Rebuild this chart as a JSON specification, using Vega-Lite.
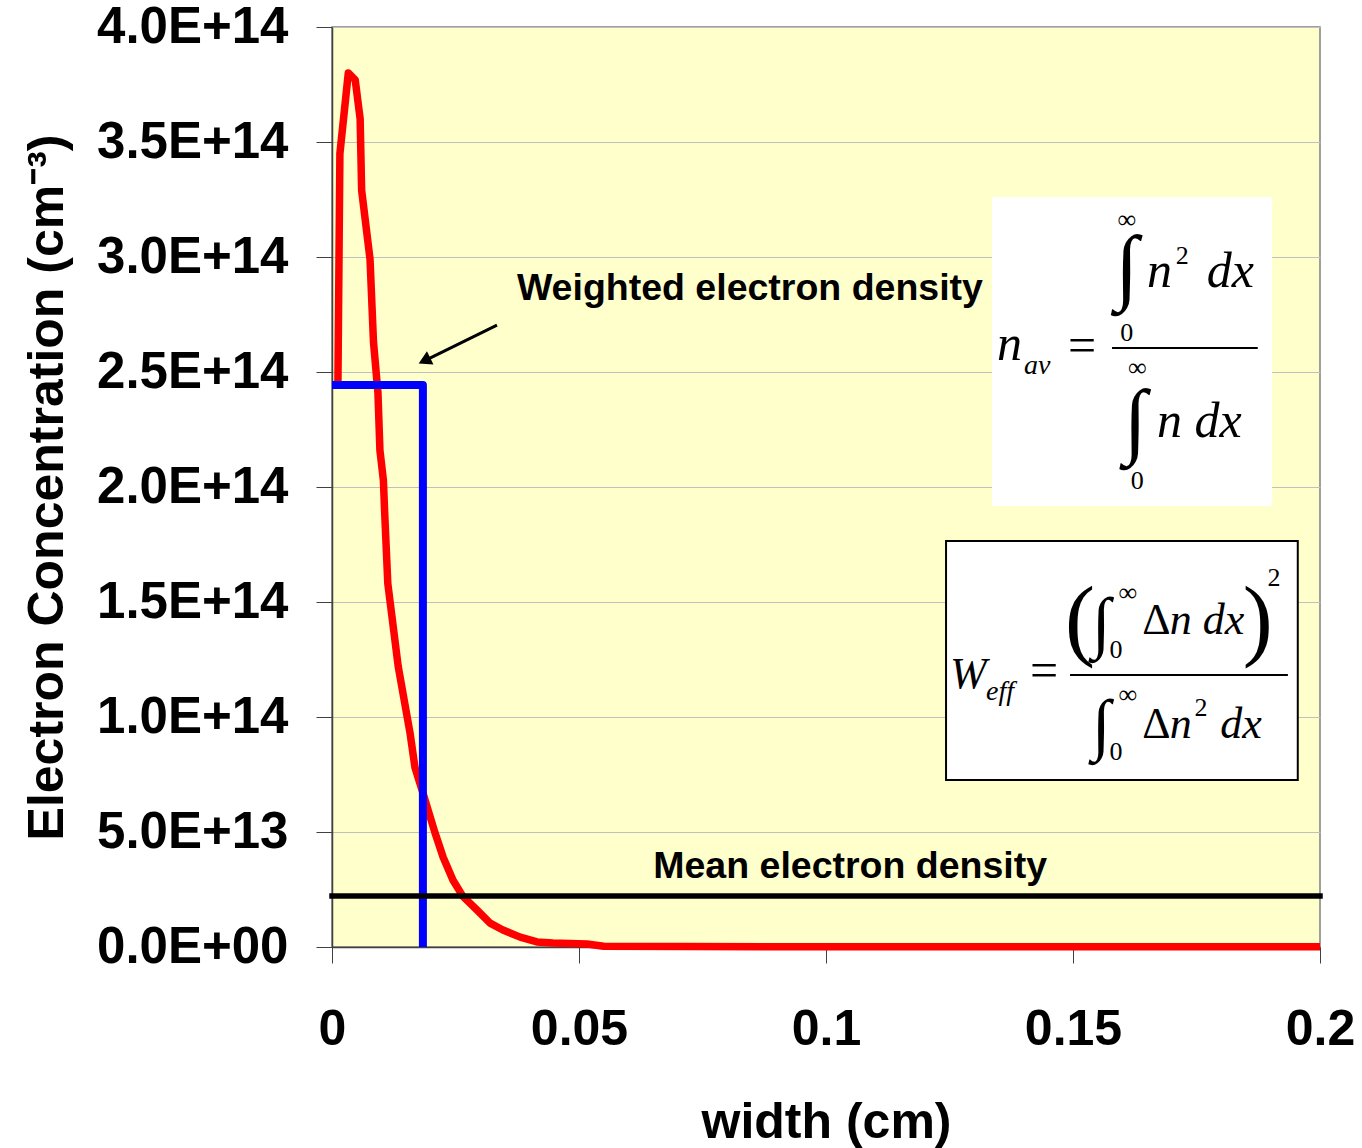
{
  "$schema": "https://vega.github.io/schema/vega-lite/v6.json",
  "width": 988,
  "height": 920,
  "autosize": "none",
  "padding": {"left": 332, "top": 27, "right": 42, "bottom": 201},
  "background": "white",
  "config": {
    "view": {"fill": "#FFFFCC", "stroke": "#808080", "strokeWidth": 1.5},
    "font": "Liberation Sans"
  },
  "datasets": {
    "curve": [
      {"x": 0.0012, "y": 2.45e14},
      {"x": 0.0016, "y": 3.45e14},
      {"x": 0.0033, "y": 3.80e14},
      {"x": 0.0047, "y": 3.77e14},
      {"x": 0.0057, "y": 3.60e14},
      {"x": 0.0060, "y": 3.29e14},
      {"x": 0.0077, "y": 2.99e14},
      {"x": 0.0084, "y": 2.63e14},
      {"x": 0.0093, "y": 2.41e14},
      {"x": 0.0097, "y": 2.16e14},
      {"x": 0.0104, "y": 2.03e14},
      {"x": 0.0107, "y": 1.87e14},
      {"x": 0.0113, "y": 1.58e14},
      {"x": 0.0134, "y": 1.22e14},
      {"x": 0.0158, "y": 9.3e13},
      {"x": 0.0168, "y": 7.8e13},
      {"x": 0.0184, "y": 6.7e13},
      {"x": 0.0208, "y": 5.0e13},
      {"x": 0.0225, "y": 3.9e13},
      {"x": 0.0245, "y": 2.9e13},
      {"x": 0.0265, "y": 2.2e13},
      {"x": 0.0294, "y": 1.6e13},
      {"x": 0.0320, "y": 1.04e13},
      {"x": 0.0346, "y": 7.4e12},
      {"x": 0.0381, "y": 4.3e12},
      {"x": 0.0415, "y": 2.2e12},
      {"x": 0.0447, "y": 1.7e12},
      {"x": 0.0516, "y": 1.3e12},
      {"x": 0.0550, "y": 3e11},
      {"x": 0.1000, "y": 1e11},
      {"x": 0.2000, "y": 1e11}
    ],
    "weighted": [
      {"x": 0, "y": 2.443e14, "step": 1},
      {"x": 0.0184, "y": 2.443e14, "step": 2},
      {"x": 0.0184, "y": 0, "step": 3}
    ],
    "mean": [{"x": 0, "x2": 0.2, "y": 2.22e13}],
    "box1": [{"x": 0.1336, "x2": 0.1903, "y": 1.917e14, "y2": 3.261e14}],
    "box2": [{"x": 0.1243, "x2": 0.1955, "y": 7.26e13, "y2": 1.765e14}],
    "fracs": [
      {"x": 0.1579, "x2": 0.1874, "y": 2.604e14},
      {"x": 0.1494, "x2": 0.1935, "y": 1.183e14}
    ],
    "formula": [
      {"x": 0.1346, "y": 2.552e14, "t": "n", "role": "main1"},
      {"x": 0.1401, "y": 2.491e14, "t": "av", "role": "sub"},
      {"x": 0.1490, "y": 2.543e14, "t": "=", "role": "eq"},
      {"x": 0.1609, "y": 3.161e14, "t": "∞", "role": "lim"},
      {"x": 0.1609, "y": 2.948e14, "t": "∫", "role": "int1"},
      {"x": 0.1650, "y": 2.870e14, "t": "n", "role": "main1"},
      {"x": 0.1721, "y": 3.004e14, "t": "2", "role": "lim"},
      {"x": 0.1771, "y": 2.870e14, "t": "dx", "role": "main1"},
      {"x": 0.1609, "y": 2.670e14, "t": "0", "role": "lim"},
      {"x": 0.1630, "y": 2.517e14, "t": "∞", "role": "lim"},
      {"x": 0.1626, "y": 2.278e14, "t": "∫", "role": "int1"},
      {"x": 0.1670, "y": 2.217e14, "t": "n dx", "role": "main1"},
      {"x": 0.1630, "y": 2.026e14, "t": "0", "role": "lim"},
      {"x": 0.1251, "y": 1.126e14, "t": "W", "role": "main2"},
      {"x": 0.1324, "y": 1.074e14, "t": "eff", "role": "sub"},
      {"x": 0.1413, "y": 1.130e14, "t": "=", "role": "eq"},
      {"x": 0.1514, "y": 1.413e14, "t": "(", "role": "paren"},
      {"x": 0.1874, "y": 1.413e14, "t": ")", "role": "paren"},
      {"x": 0.1907, "y": 1.604e14, "t": "2", "role": "lim"},
      {"x": 0.1557, "y": 1.400e14, "t": "∫", "role": "int2"},
      {"x": 0.1611, "y": 1.539e14, "t": "∞", "role": "lim"},
      {"x": 0.1587, "y": 1.291e14, "t": "0", "role": "lim"},
      {"x": 0.1640, "y": 1.361e14, "t": "Δ", "role": "delta"},
      {"x": 0.1696, "y": 1.361e14, "t": "n dx", "role": "main2"},
      {"x": 0.1557, "y": 0.957e14, "t": "∫", "role": "int2"},
      {"x": 0.1611, "y": 1.096e14, "t": "∞", "role": "lim"},
      {"x": 0.1587, "y": 0.848e14, "t": "0", "role": "lim"},
      {"x": 0.1640, "y": 0.909e14, "t": "Δ", "role": "delta"},
      {"x": 0.1696, "y": 0.909e14, "t": "n", "role": "main2"},
      {"x": 0.1759, "y": 1.039e14, "t": "2", "role": "lim"},
      {"x": 0.1798, "y": 0.909e14, "t": "dx", "role": "main2"}
    ],
    "notes": [
      {"x": 0.0846, "y": 2.813e14, "t": "Weighted electron density"},
      {"x": 0.1049, "y": 3.00e13, "t": "Mean electron density"}
    ],
    "arrow": [{"x": 0.0334, "y": 2.704e14, "x2": 0.0191, "y2": 2.553e14}]
  },
  "encoding": {
    "x": {
      "field": "x", "type": "quantitative",
      "scale": {"domain": [0, 0.2], "nice": false, "zero": false},
      "axis": {
        "values": [0, 0.05, 0.1, 0.15, 0.2],
        "format": "~g",
        "grid": false,
        "labelFlush": false,
        "labelFont": "Liberation Sans", "labelFontWeight": "bold", "labelFontSize": 50, "labelColor": "black",
        "tickSize": 16, "tickColor": "#404040", "domainColor": "#404040", "domainWidth": 1.5,
        "labelPadding": 41,
        "title": "width (cm)",
        "titleFont": "Liberation Sans", "titleFontWeight": "bold", "titleFontSize": 50, "titleColor": "black",
        "titlePadding": 43
      }
    },
    "y": {
      "field": "y", "type": "quantitative",
      "scale": {"domain": [0, 4e14], "nice": false},
      "axis": {
        "values": [0, 5e13, 1e14, 1.5e14, 2e14, 2.5e14, 3e14, 3.5e14, 4e14],
        "labelExpr": "datum.value == 0 ? '0.0E+00' : replace(format(datum.value, '.1e'), 'e', 'E')",
        "grid": true, "gridColor": "#C0C0C0", "gridWidth": 1,
        "labelFlush": false,
        "labelOverlap": false,
        "labelLimit": 400,
        "labelFont": "Liberation Sans", "labelFontWeight": "bold", "labelFontSize": 51, "labelColor": "black",
        "tickSize": 16, "tickColor": "#404040", "domainColor": "#404040", "domainWidth": 1.5,
        "labelPadding": 28,
        "title": "Electron Concentration (cm⁻³)",
        "titleFont": "Liberation Sans", "titleFontWeight": "bold", "titleFontSize": 50, "titleColor": "black",
        "titlePadding": 60
      }
    }
  },
  "layer": [
    {
      "data": {"name": "curve"},
      "mark": {"type": "line", "color": "#FF0000", "strokeWidth": 7.5, "strokeJoin": "round", "strokeCap": "butt"}
    },
    {
      "data": {"name": "weighted"},
      "mark": {"type": "line", "color": "#0000FF", "strokeWidth": 8, "strokeJoin": "round"},
      "encoding": {"order": {"field": "step", "type": "quantitative"}}
    },
    {
      "data": {"name": "mean"},
      "mark": {"type": "rule", "color": "black", "strokeWidth": 5.5, "strokeCap": "square"},
      "encoding": {"x2": {"field": "x2"}}
    },
    {
      "data": {"name": "box1"},
      "mark": {"type": "rect", "fill": "white", "strokeWidth": 0},
      "encoding": {"x2": {"field": "x2"}, "y2": {"field": "y2"}}
    },
    {
      "data": {"name": "box2"},
      "mark": {"type": "rect", "fill": "white", "stroke": "black", "strokeWidth": 2},
      "encoding": {"x2": {"field": "x2"}, "y2": {"field": "y2"}}
    },
    {
      "data": {"name": "fracs"},
      "mark": {"type": "rule", "color": "black", "strokeWidth": 2},
      "encoding": {"x2": {"field": "x2"}}
    },
    {
      "data": {"name": "formula"},
      "transform": [{"filter": "datum.role == 'main1'"}],
      "mark": {"type": "text", "font": "Liberation Serif", "fontStyle": "italic", "fontSize": 50, "align": "left", "baseline": "alphabetic", "color": "black"},
      "encoding": {"text": {"field": "t"}}
    },
    {
      "data": {"name": "formula"},
      "transform": [{"filter": "datum.role == 'main2'"}],
      "mark": {"type": "text", "font": "Liberation Serif", "fontStyle": "italic", "fontSize": 44, "align": "left", "baseline": "alphabetic", "color": "black"},
      "encoding": {"text": {"field": "t"}}
    },
    {
      "data": {"name": "formula"},
      "transform": [{"filter": "datum.role == 'delta'"}],
      "mark": {"type": "text", "font": "Liberation Serif", "fontSize": 44, "align": "left", "baseline": "alphabetic", "color": "black"},
      "encoding": {"text": {"field": "t"}}
    },
    {
      "data": {"name": "formula"},
      "transform": [{"filter": "datum.role == 'sub'"}],
      "mark": {"type": "text", "font": "Liberation Serif", "fontStyle": "italic", "fontSize": 28, "align": "left", "baseline": "alphabetic", "color": "black"},
      "encoding": {"text": {"field": "t"}}
    },
    {
      "data": {"name": "formula"},
      "transform": [{"filter": "datum.role == 'eq'"}],
      "mark": {"type": "text", "font": "Liberation Serif", "fontSize": 50, "align": "left", "baseline": "alphabetic", "color": "black"},
      "encoding": {"text": {"field": "t"}}
    },
    {
      "data": {"name": "formula"},
      "transform": [{"filter": "datum.role == 'lim'"}],
      "mark": {"type": "text", "font": "Liberation Serif", "fontSize": 26, "align": "center", "baseline": "middle", "color": "black"},
      "encoding": {"text": {"field": "t"}}
    },
    {
      "data": {"name": "formula"},
      "transform": [{"filter": "datum.role == 'int1'"}],
      "mark": {"type": "text", "font": "Liberation Serif", "fontSize": 84, "align": "center", "baseline": "middle", "color": "black"},
      "encoding": {"text": {"field": "t"}}
    },
    {
      "data": {"name": "formula"},
      "transform": [{"filter": "datum.role == 'int2'"}],
      "mark": {"type": "text", "font": "Liberation Serif", "fontSize": 68, "align": "center", "baseline": "middle", "color": "black"},
      "encoding": {"text": {"field": "t"}}
    },
    {
      "data": {"name": "formula"},
      "transform": [{"filter": "datum.role == 'paren'"}],
      "mark": {"type": "text", "font": "Liberation Serif", "fontSize": 90, "align": "center", "baseline": "middle", "color": "black"},
      "encoding": {"text": {"field": "t"}}
    },
    {
      "data": {"name": "notes"},
      "mark": {"type": "text", "font": "Liberation Sans", "fontWeight": "bold", "fontSize": 37.5, "align": "center", "baseline": "alphabetic", "color": "black"},
      "encoding": {"text": {"field": "t"}}
    },
    {
      "data": {"name": "arrow"},
      "mark": {"type": "rule", "color": "black", "strokeWidth": 3},
      "encoding": {"x2": {"field": "x2"}, "y2": {"field": "y2"}}
    },
    {
      "data": {"name": "arrow"},
      "mark": {"type": "point", "shape": "triangle", "filled": true, "color": "black", "size": 220, "angle": 244, "opacity": 1},
      "encoding": {"x": {"field": "x2", "type": "quantitative"}, "y": {"field": "y2", "type": "quantitative"}}
    }
  ]
}
